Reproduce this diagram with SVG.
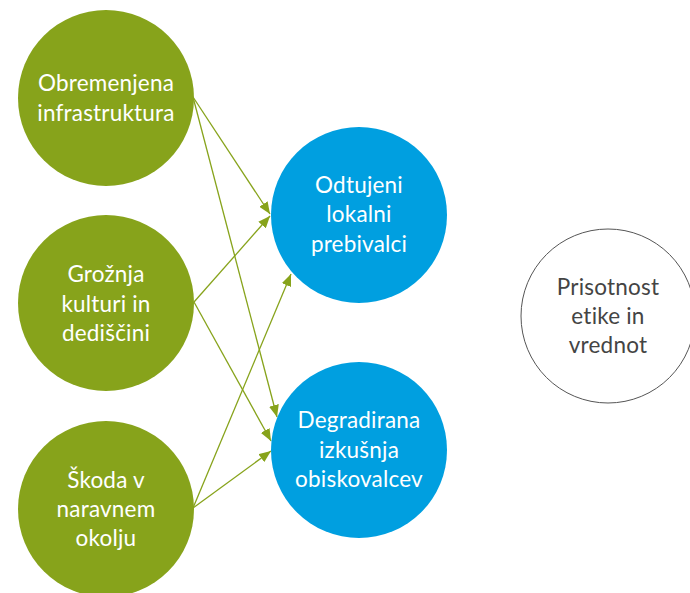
<svg xmlns="http://www.w3.org/2000/svg" width="690" height="593" viewBox="0 0 690 593">
  <style>
    .cause { fill: #87A31B; }
    .effect { fill: #009FE0; }
    .ethics { fill: #FFFFFF; stroke: #555555; stroke-width: 1; }
    .lbl { font-family: Lato, "Open Sans", "Liberation Sans", sans-serif; font-size: 22.5px; letter-spacing: 0.2px; text-anchor: middle; fill: #FFFFFF; }
    .lbl-dark { fill: #444444; }
    .link { stroke: #87A31B; stroke-width: 1.3; fill: none; marker-end: url(#arrow); }
  </style>
  <defs>
    <marker id="arrow" viewBox="0 0 12 10" refX="12" refY="5" markerWidth="12" markerHeight="10" markerUnits="userSpaceOnUse" orient="auto">
      <path d="M0,0 L12,5 L0,10 Z" fill="#87A31B"/>
    </marker>
  </defs>

  <g id="connectors">
    <line class="link" x1="193" y1="97" x2="270" y2="214"/>
    <line class="link" x1="193" y1="97" x2="277" y2="417"/>
    <line class="link" x1="194" y1="302" x2="270" y2="216"/>
    <line class="link" x1="194" y1="302" x2="271" y2="441"/>
    <line class="link" x1="193" y1="508" x2="291" y2="274"/>
    <line class="link" x1="193" y1="508" x2="271" y2="451"/>
  </g>

  <g id="obremenjena-infrastruktura">
    <circle class="cause" cx="106" cy="98" r="88"/>
    <text class="lbl" x="106" y="91">Obremenjena</text>
    <text class="lbl" x="106" y="121">infrastruktura</text>
  </g>

  <g id="groznja-kulturi">
    <circle class="cause" cx="106" cy="303" r="88"/>
    <text class="lbl" x="106" y="282">Grožnja</text>
    <text class="lbl" x="106" y="312">kulturi in</text>
    <text class="lbl" x="106" y="341">dediščini</text>
  </g>

  <g id="skoda-okolju">
    <circle class="cause" cx="106" cy="509" r="88"/>
    <text class="lbl" x="106" y="488">Škoda v</text>
    <text class="lbl" x="106" y="517">naravnem</text>
    <text class="lbl" x="106" y="546">okolju</text>
  </g>

  <g id="odtujeni-prebivalci">
    <circle class="effect" cx="359" cy="215" r="88"/>
    <text class="lbl" x="359" y="193">Odtujeni</text>
    <text class="lbl" x="359" y="222">lokalni</text>
    <text class="lbl" x="359" y="252">prebivalci</text>
  </g>

  <g id="degradirana-izkusnja">
    <circle class="effect" cx="359" cy="450" r="88"/>
    <text class="lbl" x="359" y="428">Degradirana</text>
    <text class="lbl" x="359" y="458">izkušnja</text>
    <text class="lbl" x="359" y="487">obiskovalcev</text>
  </g>

  <g id="prisotnost-etike">
    <circle class="ethics" cx="608" cy="316" r="87"/>
    <text class="lbl lbl-dark" x="608" y="295">Prisotnost</text>
    <text class="lbl lbl-dark" x="608" y="324">etike in</text>
    <text class="lbl lbl-dark" x="608" y="353">vrednot</text>
  </g>
</svg>
